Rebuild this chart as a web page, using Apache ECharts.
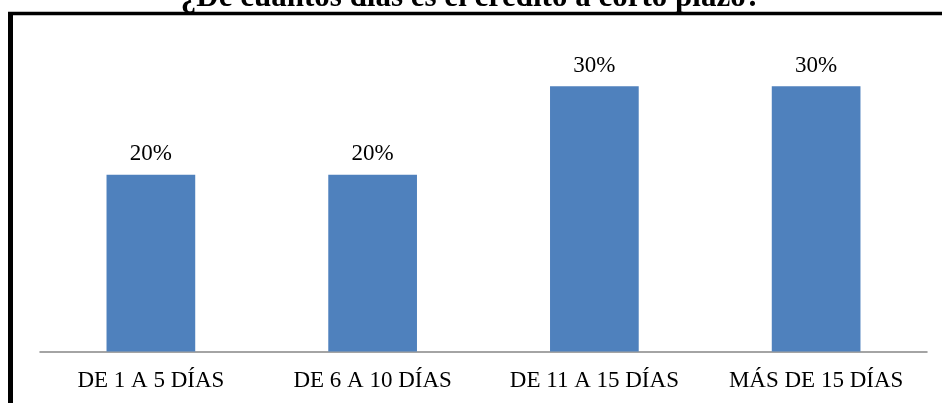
<!DOCTYPE html>
<html>
<head>
<meta charset="utf-8">
<script src="https://cdn.jsdelivr.net/npm/echarts@6/dist/echarts.min.js"></script>
<style>
    html, body { margin: 0; padding: 0; background: #fff; }
    #main { width: 942px; height: 403px; }
</style>
</head>
<body>
<div id="main"></div>
<script>
var titleText = '¿De cuántos días es el crédito a corto plazo?';
var categories = ['DE 1 A 5 DÍAS', 'DE 6 A 10 DÍAS', 'DE 11 A 15 DÍAS', 'MÁS DE 15 DÍAS'];
var values = [20, 20, 30, 30];

var myChart = echarts.init(document.getElementById('main'));
var serif = '"Liberation Serif", "Times New Roman", serif';

var option = {
    animation: false,
    title: {
        text: titleText,
        left: 'center',
        top: -23,
        textStyle: {
            fontFamily: serif,
            fontWeight: 'bold',
            fontSize: 31,
            color: '#000'
        }
    },
    // marco negro del gráfico
    graphic: [
        {
            type: 'line',
            shape: { x1: 8, y1: 13.5, x2: 942, y2: 13.5 },
            style: { stroke: '#000', lineWidth: 3.5 }
        },
        {
            type: 'line',
            shape: { x1: 10.5, y1: 12, x2: 10.5, y2: 403 },
            style: { stroke: '#000', lineWidth: 5 }
        }
    ],
    grid: {
        left: 40,
        right: 15,
        top: 42,
        bottom: 51.5
    },
    xAxis: {
        type: 'category',
        data: categories,
        axisTick: { show: false },
        axisLine: { lineStyle: { color: '#868686', width: 1.5 } },
        axisLabel: {
            interval: 0,
            hideOverlap: false,
            fontFamily: serif,
            fontSize: 23,
            color: '#000',
            margin: 18
        }
    },
    yAxis: {
        type: 'value',
        min: 0,
        max: 35,
        show: false
    },
    series: [
        {
            type: 'bar',
            data: values,
            barWidth: '40%',
            itemStyle: { color: '#4F81BD' },
            label: {
                show: true,
                position: 'top',
                distance: 9,
                formatter: '{c}%',
                fontFamily: serif,
                fontSize: 23,
                color: '#000'
            }
        }
    ]
};
myChart.setOption(option);

window.addEventListener('resize', function () {
    myChart.resize();
});
</script>
</body>
</html>
